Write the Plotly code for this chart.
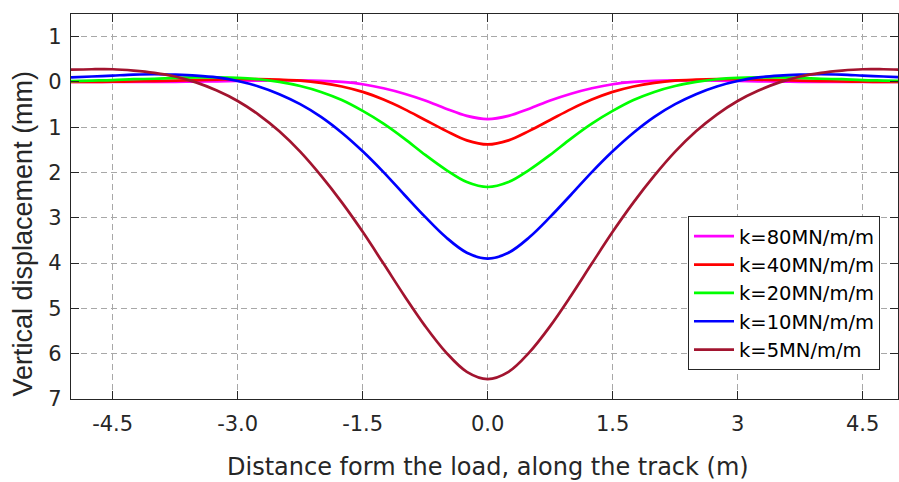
import plotly.graph_objects as go

x = [-5.0, -4.75, -4.5, -4.25, -4.0, -3.75, -3.5, -3.25, -3.0, -2.75, -2.5, -2.25, -2.0, -1.75, -1.5, -1.25, -1.0, -0.75, -0.5, -0.25,
     0.0, 0.25, 0.5, 0.75, 1.0, 1.25, 1.5, 1.75, 2.0, 2.25, 2.5, 2.75, 3.0, 3.25, 3.5, 3.75, 4.0, 4.25, 4.5, 4.75, 5.0]

k80 = [0.0, 0.0, 0.0, 0.0, -0.001, -0.003, -0.008, -0.014, -0.021, -0.028, -0.034, -0.035, -0.025, 0.0, 0.05, 0.14, 0.26, 0.41, 0.59, 0.75,
       0.82, 0.75, 0.59, 0.41, 0.26, 0.14, 0.05, 0.0, -0.025, -0.035, -0.034, -0.028, -0.021, -0.014, -0.008, -0.003, -0.001, 0.0, 0.0, 0.0, 0.0]
k40 = [0.0, 0.0, -0.005, -0.01, -0.02, -0.03, -0.04, -0.05, -0.06, -0.06, -0.05, -0.03, 0.02, 0.10, 0.22, 0.39, 0.60, 0.84, 1.08, 1.29,
       1.38, 1.29, 1.08, 0.84, 0.60, 0.39, 0.22, 0.10, 0.02, -0.03, -0.05, -0.06, -0.06, -0.05, -0.04, -0.03, -0.02, -0.01, -0.005, 0.0, 0.0]
k20 = [-0.02, -0.03, -0.04, -0.06, -0.07, -0.09, -0.10, -0.10, -0.09, -0.06, 0.0, 0.09, 0.22, 0.40, 0.64, 0.92, 1.25, 1.61, 1.94, 2.21,
       2.32, 2.21, 1.94, 1.61, 1.25, 0.92, 0.64, 0.40, 0.22, 0.09, 0.0, -0.06, -0.09, -0.10, -0.10, -0.09, -0.07, -0.06, -0.04, -0.03, -0.02]
k10 = [-0.10, -0.12, -0.14, -0.16, -0.17, -0.16, -0.14, -0.10, -0.02, 0.10, 0.27, 0.49, 0.77, 1.12, 1.53, 1.99, 2.49, 2.98, 3.43, 3.77,
       3.90, 3.77, 3.43, 2.98, 2.49, 1.99, 1.53, 1.12, 0.77, 0.49, 0.27, 0.10, -0.02, -0.10, -0.14, -0.16, -0.17, -0.16, -0.14, -0.12, -0.10]
k5 = [-0.27, -0.28, -0.28, -0.25, -0.20, -0.12, 0.01, 0.19, 0.42, 0.72, 1.09, 1.54, 2.07, 2.66, 3.31, 4.01, 4.72, 5.39, 5.97, 6.40,
      6.56, 6.40, 5.97, 5.39, 4.72, 4.01, 3.31, 2.66, 2.07, 1.54, 1.09, 0.72, 0.42, 0.19, 0.01, -0.12, -0.20, -0.25, -0.28, -0.28, -0.27]

names = ["k=80MN/m/m", "k=40MN/m/m", "k=20MN/m/m", "k=10MN/m/m", "k=5MN/m/m"]
series = [k80, k40, k20, k10, k5]
colors = ["#FF00FF", "#FF0000", "#00FF00", "#0000FF", "#A2142F"]

x_tickvals = [-4.5, -3.0, -1.5, 0.0, 1.5, 3.0, 4.5]
x_ticktext = ["-4.5", "-3.0", "-1.5", "0.0", "1.5", "3", "4.5"]
y_tickvals = [-1, 0, 1, 2, 3, 4, 5, 6, 7]
y_ticktext = ["1", "0", "1", "2", "3", "4", "5", "6", "7"]

x_title = "Distance form the load, along the track (m)"
y_title = "Vertical displacement (mm)"

WIDE = "DejaVu Sans, Verdana, sans-serif"
NARROW = "Liberation Sans, Arial, Helvetica, sans-serif"
TXT = "#262626"

W, H = 899, 482
ML, MR, MT, MB = 71, 1, 14, 83
PH = H - MT - MB

fig = go.Figure()
for n, s, c in zip(names, series, colors):
    fig.add_trace(go.Scatter(x=x, y=s, mode="lines", name=n,
                             line=dict(color=c, width=2.7, shape="spline", smoothing=1.0)))

axis_common = dict(
    showline=True, linecolor=TXT, linewidth=1.3, mirror="ticks",
    ticks="inside", ticklen=8, tickwidth=1, tickcolor=TXT,
    showgrid=True, gridcolor="#a8a8a8", gridwidth=1, griddash="6px,4px",
    zeroline=False, tickfont=dict(family=WIDE, size=21, color=TXT),
)

fig.update_xaxes(range=[-5.0, 4.924], tickvals=x_tickvals, ticktext=x_ticktext,
                 ticklabelstandoff=6, **axis_common)
fig.update_yaxes(range=[7, -1.5], tickvals=y_tickvals, ticktext=y_ticktext,
                 ticklabelstandoff=4, **axis_common)

def py(p):
    return (H - MB - p) / PH

fig.add_annotation(text=x_title, xref="paper", yref="paper",
                   x=(488 - ML) / (W - ML - MR), y=py(467), xanchor="center", yanchor="middle",
                   showarrow=False, font=dict(family=WIDE, size=24, color=TXT))
fig.add_annotation(text=y_title, xref="paper", yref="paper", textangle=-90,
                   x=(22.5 - ML) / (W - ML - MR), y=py(234), xanchor="center", yanchor="middle",
                   showarrow=False, font=dict(family=NARROW, size=27, color=TXT))

fig.update_layout(
    width=W, height=H,
    margin=dict(l=ML, r=MR, t=MT, b=MB),
    plot_bgcolor="white", paper_bgcolor="white",
    font=dict(family=WIDE, color=TXT),
    legend=dict(x=(688 - ML) / (W - ML - MR), y=py(216), xanchor="left", yanchor="top",
                bgcolor="white", bordercolor=TXT, borderwidth=1,
                font=dict(family=WIDE, size=19.5, color="black"),
                itemwidth=40, tracegroupgap=0),
    showlegend=True,
)

fig.write_html("out.html")
